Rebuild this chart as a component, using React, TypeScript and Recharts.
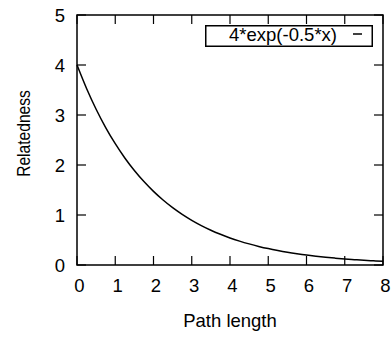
import { LineChart, Line, XAxis, YAxis, ReferenceArea, Legend } from 'recharts';

const pathLength = [
  0, 0.25, 0.5, 0.75, 1, 1.25, 1.5, 1.75, 2, 2.25, 2.5, 2.75, 3, 3.25, 3.5, 3.75, 4,
  4.25, 4.5, 4.75, 5, 5.25, 5.5, 5.75, 6, 6.25, 6.5, 6.75, 7, 7.25, 7.5, 7.75, 8,
];
const relatedness = [
  4.0, 3.53, 3.115, 2.749, 2.426, 2.141, 1.89, 1.668, 1.472, 1.299, 1.146, 1.012, 0.893,
  0.788, 0.695, 0.614, 0.541, 0.478, 0.422, 0.372, 0.328, 0.29, 0.256, 0.226, 0.199,
  0.176, 0.155, 0.137, 0.121, 0.107, 0.094, 0.083, 0.073,
];
const xTicks = [0, 1, 2, 3, 4, 5, 6, 7, 8];
const yTicks = [0, 1, 2, 3, 4, 5];
const seriesName = '4*exp(-0.5*x)';

const data = pathLength.map((x, i) => ({ x, y: relatedness[i] }));

const FONT = '"Liberation Sans", Arial, sans-serif';
const PLOT_LEFT = 77;
const PLOT_RIGHT = 383;
const PLOT_TOP = 15;
const PLOT_BOTTOM = 265;
const TICK = 9;

const XTick = (props: any) => {
  const { x, payload } = props;
  return (
    <g>
      <line x1={x} x2={x} y1={PLOT_BOTTOM} y2={PLOT_BOTTOM - TICK} stroke="#000" strokeWidth={1.2} />
      <line x1={x} x2={x} y1={PLOT_TOP} y2={PLOT_TOP + TICK} stroke="#000" strokeWidth={1.2} />
      <text x={x + 2.5} y={292} textAnchor="middle" fontSize={18.5} fontFamily={FONT} fill="#000">
        {payload.value}
      </text>
    </g>
  );
};

const YTick = (props: any) => {
  const { y, payload } = props;
  return (
    <g>
      <line x1={PLOT_LEFT} x2={PLOT_LEFT + TICK} y1={y} y2={y} stroke="#000" strokeWidth={1.2} />
      <line x1={PLOT_RIGHT} x2={PLOT_RIGHT - TICK} y1={y} y2={y} stroke="#000" strokeWidth={1.2} />
      <text x={65} y={y + 6.5} textAnchor="end" fontSize={18.5} fontFamily={FONT} fill="#000">
        {payload.value}
      </text>
    </g>
  );
};

const KeyBox = () => (
  <svg width={168} height={22} style={{ display: 'block' }}>
    <rect x={0.75} y={0.75} width={166.5} height={20.5} fill="#fff" stroke="#000" strokeWidth={1.5} />
    <text x={132} y={15.5} textAnchor="end" fontSize={18.5} fontFamily={FONT} fill="#000">
      {seriesName}
    </text>
    <line x1={148} x2={157} y1={9} y2={9} stroke="#000" strokeWidth={1.5} />
  </svg>
);

export default function App() {
  return (
    <div style={{ position: 'absolute', left: 0, top: 0, width: 391, height: 337, background: '#fff' }}>
      <LineChart width={391} height={337} data={data} margin={{ top: 15, right: 8, bottom: 0, left: 0 }}>
        <ReferenceArea x1={0} x2={8} y1={0} y2={5} fill="none" stroke="#000" strokeWidth={1.5} />
        <XAxis
          dataKey="x"
          type="number"
          domain={[0, 8]}
          ticks={xTicks}
          height={72}
          axisLine={false}
          tickLine={false}
          tick={<XTick />}
          interval={0}
          label={{ value: 'Path length', position: 'insideBottom', offset: 10, fontSize: 18.5, fontFamily: FONT, fill: '#000' }}
        />
        <YAxis
          type="number"
          domain={[0, 5]}
          ticks={yTicks}
          width={77}
          axisLine={false}
          tickLine={false}
          tick={<YTick />}
          interval={0}
        />
        <text
          transform="translate(30,133.5) scale(1.2,1) rotate(-90)"
          textAnchor="middle"
          fontSize={15.6}
          fontFamily={FONT}
          fill="#000"
        >
          Relatedness
        </text>
        <Line
          dataKey="y"
          name={seriesName}
          type="monotone"
          stroke="#000"
          strokeWidth={1.5}
          dot={false}
          isAnimationActive={false}
        />
        <Legend
          layout="horizontal"
          verticalAlign="middle"
          align="center"
          content={() => <KeyBox />}
          wrapperStyle={{ position: 'absolute', left: 205, top: 25, width: 168, height: 22 }}
        />
      </LineChart>
    </div>
  );
}
